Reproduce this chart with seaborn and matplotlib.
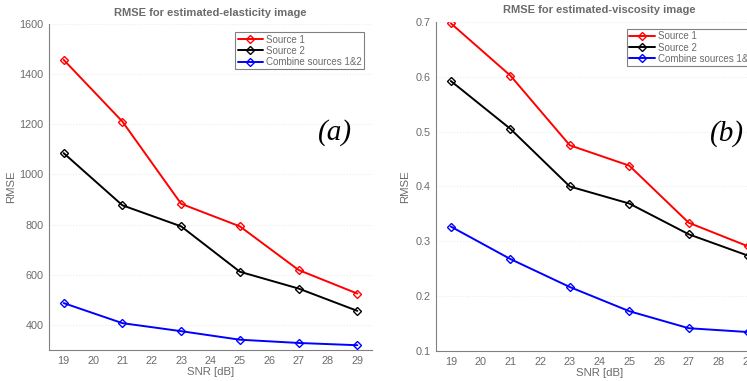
import matplotlib
matplotlib.use("Agg")
import matplotlib.pyplot as plt
import seaborn as sns
import pandas as pd

snr = [19, 21, 23, 25, 27, 29]
series_names = ["Source 1", "Source 2", "Combine sources 1&2"]
elast_src1 = [1457, 1211, 883, 793, 619, 525]
elast_src2 = [1085, 877, 793, 612, 545, 456]
elast_comb = [487, 407, 375, 341, 328, 319]
visc_src1 = [0.697, 0.602, 0.475, 0.438, 0.334, 0.291]
visc_src2 = [0.592, 0.505, 0.400, 0.369, 0.313, 0.274]
visc_comb = [0.327, 0.268, 0.217, 0.173, 0.142, 0.135]
x_ticks = list(range(19, 30))

sns.set_style("white")
plt.rcParams['font.family'] = ['Liberation Sans', 'DejaVu Sans']
grey = '#6b6b6b'
colors = ['#ff0000', '#000000', '#0000ff']

fig = plt.figure(figsize=(7.47, 3.81), dpi=100)
ax1 = fig.add_axes([0.0656, 0.0814, 0.4324, 0.8556])
ax2 = fig.add_axes([0.5837, 0.078, 0.4378, 0.865])


def make_df(vals):
    rows = []
    for name, v in zip(series_names, vals):
        for x, y in zip(snr, v):
            rows.append({"SNR": x, "RMSE": y, "Series": name})
    return pd.DataFrame(rows)


def draw(ax, df, ylim, yticks, title, letter, letter_pos, leg_kw, ylpad):
    for name, c in zip(series_names, colors):
        sub = df[df["Series"] == name]
        sns.lineplot(data=sub, x="SNR", y="RMSE", ax=ax, color=c, lw=1.4,
                     marker='D', markersize=4, markerfacecolor='none',
                     markeredgecolor=c, markeredgewidth=1.0, label=name)
    ax.set_xlim(18.5, 29.5)
    ax.set_ylim(*ylim)
    ax.set_xticks(x_ticks)
    ax.set_yticks(yticks)
    ax.tick_params(direction='in', length=3, width=0.6, colors=grey,
                   labelsize=7.8, labelcolor=grey, pad=4)
    for s in ['top', 'right']:
        ax.spines[s].set_visible(False)
    for s in ['left', 'bottom']:
        ax.spines[s].set_color('#808080')
        ax.spines[s].set_linewidth(0.8)
    ax.yaxis.grid(True, color='#ececec', linestyle=':', linewidth=0.8)
    ax.set_xlabel("SNR [dB]", fontsize=8.2, color=grey, labelpad=1)
    ax.set_ylabel("RMSE", fontsize=8.2, color=grey, labelpad=ylpad)
    ax.set_title(title, fontsize=8, fontweight='bold', color=grey, pad=6)
    ax.text(letter_pos[0], letter_pos[1], letter, transform=ax.transAxes,
            fontsize=21, style='italic', family='Liberation Serif',
            ha='center', va='center', color='black')
    leg = ax.legend(fontsize=7, handlelength=2.6, labelspacing=0.12,
                    borderpad=0.25, handletextpad=0.3, borderaxespad=0,
                    fancybox=False, framealpha=1, **leg_kw)
    leg.get_frame().set_edgecolor('#808080')
    leg.get_frame().set_linewidth(0.8)
    for t in leg.get_texts():
        t.set_color(grey)


draw(ax1, make_df([elast_src1, elast_src2, elast_comb]), (300, 1600),
     [400, 600, 800, 1000, 1200, 1400, 1600],
     "RMSE for estimated-elasticity image", "(a)", (0.885, 0.666),
     dict(loc='upper right', bbox_to_anchor=(0.975, 0.975)), 2)
draw(ax2, make_df([visc_src1, visc_src2, visc_comb]), (0.1, 0.7),
     [0.1, 0.2, 0.3, 0.4, 0.5, 0.6, 0.7],
     "RMSE for estimated-viscosity image", "(b)", (0.89, 0.662),
     dict(loc='upper left', bbox_to_anchor=(0.584, 0.978)), 4)

fig.savefig("out.png", dpi=100)
